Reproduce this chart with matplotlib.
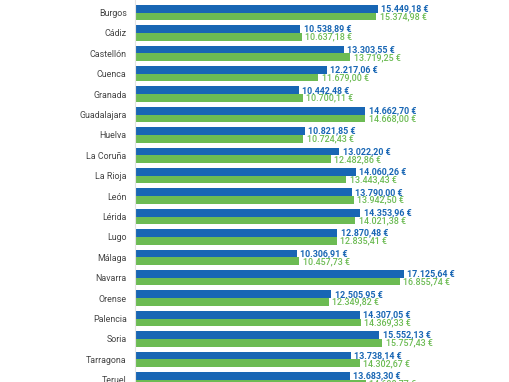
import numpy as np
import matplotlib.pyplot as plt

provincias = ["Burgos", "Cádiz", "Castellón", "Cuenca", "Granada", "Guadalajara",
              "Huelva", "La Coruña", "La Rioja", "León", "Lérida", "Lugo", "Málaga",
              "Navarra", "Orense", "Palencia", "Soria", "Tarragona", "Teruel"]
serie_azul = [15449.18, 10538.89, 13303.55, 12217.06, 10442.48, 14662.70,
              10821.85, 13022.20, 14060.26, 13790.00, 14353.96, 12870.48, 10306.91,
              17125.64, 12505.95, 14307.05, 15552.13, 13738.14, 13683.30]
serie_verde = [15374.98, 10637.18, 13719.25, 11679.00, 10700.11, 14668.00,
               10724.43, 12482.86, 13443.43, 13942.50, 14021.38, 12835.41, 10457.73,
               16855.74, 12349.82, 14369.33, 15757.43, 14302.67, 14698.77]

AZUL = "#1866b4"
VERDE = "#6cbb53"


def euros(v):
    s = f"{v:,.2f}"
    s = s.replace(",", "X").replace(".", ",").replace("X", ".")
    return s + " €"


fig = plt.figure(figsize=(5.1, 3.82), dpi=100)
ax = fig.add_axes([135 / 510, 0, 1 - 135 / 510, 1])

y = np.arange(len(provincias))
h = 0.38
ax.barh(y - h / 2, serie_azul, height=h, color=AZUL)
ax.barh(y + h / 2, serie_verde, height=h, color=VERDE)

for yi, a, v in zip(y, serie_azul, serie_verde):
    ax.text(a + 220, yi - h / 2, euros(a), color=AZUL, fontsize=6.4,
            fontweight="bold", va="center", ha="left", family="Roboto")
    ax.text(v + 220, yi + h / 2 + 0.02, euros(v), color=VERDE, fontsize=6.4,
            fontweight="medium", va="center", ha="left", family="Roboto")

ax.set_xlim(0, 375 / 0.0157)
ax.set_ylim(18.11, -0.613)
ax.set_yticks(y)
ax.set_yticklabels(provincias, fontsize=6.4, color="#444444", family="Roboto")
ax.tick_params(axis="y", length=0, pad=6)
ax.set_xticks([])
for s in ["top", "right", "bottom"]:
    ax.spines[s].set_visible(False)
ax.spines["left"].set_color("#e3e3e3")
ax.spines["left"].set_linewidth(0.8)

fig.savefig("out.png", dpi=100)
